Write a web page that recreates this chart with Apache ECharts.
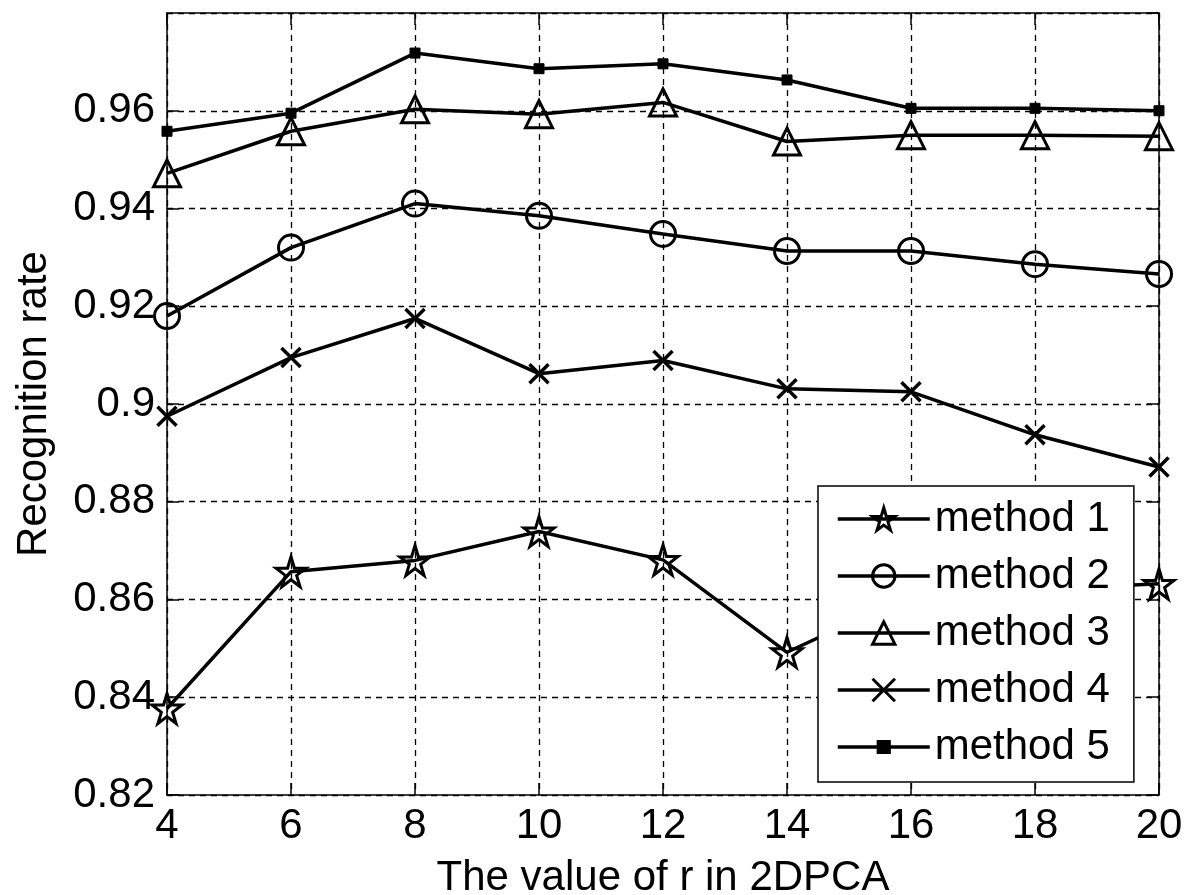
<!DOCTYPE html>
<html>
<head>
    <meta charset="utf-8">
    <title>Recognition rate vs r</title>
    <script src="https://cdn.jsdelivr.net/npm/echarts@6/dist/echarts.min.js"></script>
    <style>
        html, body { margin: 0; padding: 0; background: #fff; }
        #chart1 { width: 1187px; height: 895px; }
    </style>
</head>
<body>
<div id="chart1"></div>
<script type="text/javascript">
    // data
    var rValues = [4, 6, 8, 10, 12, 14, 16, 18, 20];
    var method1 = [0.8377, 0.8657, 0.8680, 0.8739, 0.8681, 0.8492, 0.8610, 0.8620, 0.8632];
    var method2 = [0.9180, 0.9320, 0.9410, 0.9385, 0.9348, 0.9313, 0.9313, 0.9286, 0.9266];
    var method3 = [0.9472, 0.9558, 0.9603, 0.9593, 0.9617, 0.9537, 0.9550, 0.9550, 0.9548];
    var method4 = [0.8975, 0.9095, 0.9175, 0.9062, 0.9089, 0.9031, 0.9025, 0.8937, 0.8871];
    var method5 = [0.9558, 0.9595, 0.9718, 0.9686, 0.9696, 0.9663, 0.9605, 0.9605, 0.9600];
    var seriesNames = ['method 1', 'method 2', 'method 3', 'method 4', 'method 5'];
    var yTicks = [0.82, 0.84, 0.86, 0.88, 0.9, 0.92, 0.94, 0.96, 0.98];

    var FONT = 'Liberation Sans, Arial, sans-serif';

    function pairs(ys) {
        return rValues.map(function (x, i) { return [x, ys[i]]; });
    }

    var hollow = { color: 'rgba(0,0,0,0)', borderColor: '#000', borderWidth: 3 };

    function makeSeries(name, ys, symbol, size, itemStyle) {
        return {
            name: name,
            type: 'line',
            data: pairs(ys),
            symbol: symbol,
            symbolSize: size,
            showAllSymbol: true,
            lineStyle: { color: '#000', width: 3.5 },
            itemStyle: itemStyle,
            emphasis: { disabled: true }
        };
    }

    var starPath = 'path://M50,0 L61,35 L98,35 L68,57 L79,91 L50,70 L21,91 L32,57 L2,35 L39,35 Z';
    var crossPath = 'path://M0,0 L10,10 M10,0 L0,10';
    // small square padded inside a larger box so the legend keeps it small
    var dotPath = 'path://M0,0 M20,20 M5,5 L15,5 L15,15 L5,15 Z';

    var myChart1 = echarts.init(document.getElementById('chart1'));

    var axisCommon = {
        axisLine: { show: true, onZero: false, lineStyle: { color: '#000', width: 1.5 } },
        axisTick: { show: true, inside: true, length: 12, lineStyle: { color: '#000', width: 1.5 } }
    };

    myChart1.setOption({
        animation: false,
        backgroundColor: '#fff',
        grid: { left: 167, right: 28, top: 13, bottom: 100, outerBoundsMode: 'none' },
        legend: {
            orient: 'vertical',
            left: 818,
            top: 486,
            data: seriesNames,
            padding: [12, 24, 14, 18],
            itemGap: 15,
            itemWidth: 92,
            itemHeight: 28,
            backgroundColor: '#fff',
            borderColor: '#000',
            borderWidth: 1.5,
            borderRadius: 0,
            lineStyle: { color: '#000', width: 3.5 },
            itemStyle: { borderColor: '#000', borderWidth: 3 },
            textStyle: { fontFamily: FONT, fontSize: 42, lineHeight: 42, color: '#000' }
        },
        xAxis: [
            Object.assign({
                type: 'value',
                min: 4,
                max: 20,
                interval: 2,
                name: 'The value of r in 2DPCA',
                nameLocation: 'middle',
                nameGap: 62,
                nameTextStyle: { fontFamily: FONT, fontSize: 42, color: '#000' },
                axisLabel: { fontFamily: FONT, fontSize: 42, color: '#000', margin: 10 },
                splitLine: { show: true, lineStyle: { color: '#000', width: 1.3, type: [6, 5] } }
            }, axisCommon),
            Object.assign({
                type: 'value',
                position: 'top',
                min: 4,
                max: 20,
                interval: 2,
                axisLabel: { show: false },
                splitLine: { show: false }
            }, axisCommon)
        ],
        yAxis: [
            Object.assign({
                type: 'value',
                min: yTicks[0],
                max: yTicks[yTicks.length - 1],
                interval: 0.02,
                name: 'Recognition rate',
                nameLocation: 'middle',
                nameRotate: 90,
                nameGap: 112,
                nameTextStyle: { fontFamily: FONT, fontSize: 42, color: '#000' },
                axisLabel: {
                    fontFamily: FONT, fontSize: 42, color: '#000', margin: 12,
                    showMaxLabel: false,
                    formatter: function (v) { return String(parseFloat(v.toFixed(2))); }
                },
                splitLine: { show: true, lineStyle: { color: '#000', width: 1.3, type: [6, 5] } }
            }, axisCommon),
            Object.assign({
                type: 'value',
                position: 'right',
                min: yTicks[0],
                max: yTicks[yTicks.length - 1],
                interval: 0.02,
                axisLabel: { show: false },
                splitLine: { show: false }
            }, axisCommon)
        ],
        series: [
            makeSeries(seriesNames[0], method1, starPath, 30, hollow),
            makeSeries(seriesNames[1], method2, 'circle', 25, hollow),
            makeSeries(seriesNames[2], method3, 'triangle', 27, hollow),
            makeSeries(seriesNames[3], method4, crossPath, 19, { color: 'rgba(0,0,0,0)', borderColor: '#000', borderWidth: 3.5 }),
            makeSeries(seriesNames[4], method5, dotPath, 20, { color: '#000', borderColor: '#000', borderWidth: 1 })
        ]
    });
</script>
</body>
</html>
